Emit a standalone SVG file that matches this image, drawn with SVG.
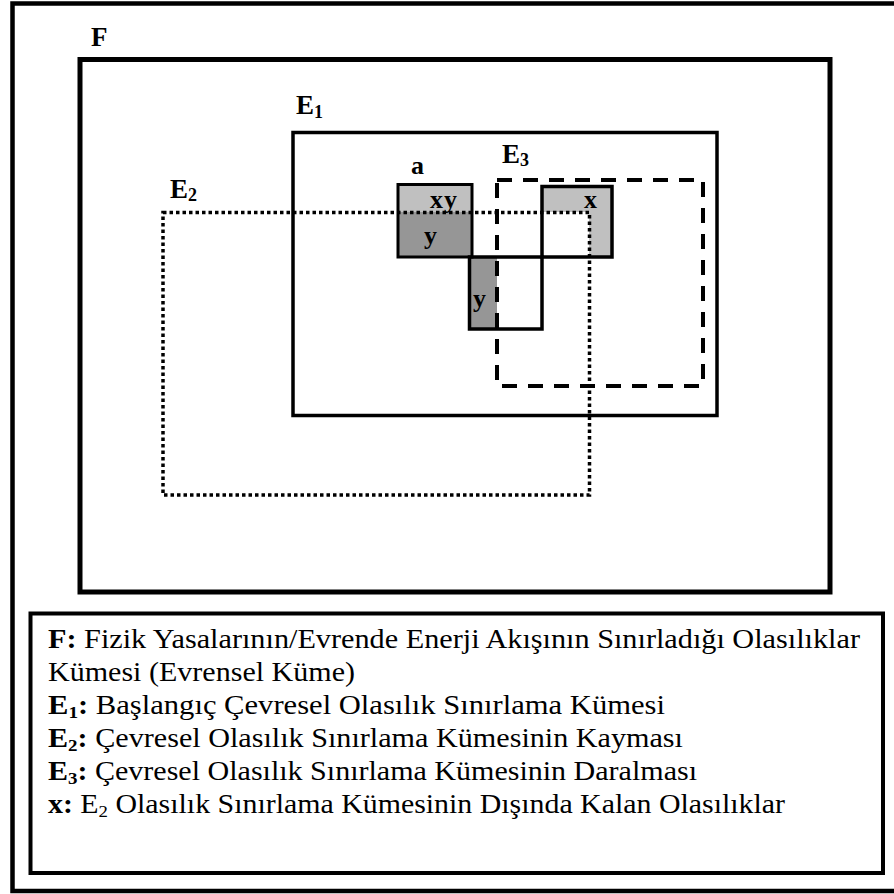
<svg xmlns="http://www.w3.org/2000/svg" width="894" height="894" viewBox="0 0 894 894">
<style>
.frame{fill:none;stroke:#000}
.lbl{font-family:'Liberation Serif','Times New Roman',Times,'DejaVu Serif',serif;font-weight:bold;fill:#000}
.leg{font-family:'Liberation Serif','Times New Roman',Times,'DejaVu Serif',serif;font-size:27px;fill:#000}
.b{font-weight:bold}
.lg{fill:#c0c0c0}
.dg{fill:#969696}
</style>
<rect width="894" height="894" fill="#fff"/>
<g id="outer"><path class="frame" d="M 894 3.5 H 12.5 V 891 H 894" stroke-width="4.5"/></g>
<g id="F">
<rect class="frame" x="80" y="59.5" width="750" height="532.5" stroke-width="5"/>
<text class="lbl" x="91" y="46" font-size="27">F</text>
</g>
<g id="E1">
<rect class="frame" x="293" y="132.5" width="424" height="283" stroke-width="3.5"/>
<text class="lbl" x="296" y="114" font-size="27">E<tspan font-size="18" dy="4">1</tspan></text>
</g>
<g id="regions">
<rect class="lg" x="398" y="184" width="74" height="28"/>
<rect class="dg" x="398" y="212" width="74" height="45"/>
<rect class="dg" x="469" y="257" width="28" height="72"/>
<rect class="lg" x="542" y="186" width="70" height="26"/>
<rect class="lg" x="589" y="212" width="23" height="45"/>
<rect class="frame" x="398" y="184.5" width="74" height="72.5" stroke-width="3"/>
<rect class="frame" x="469.5" y="257" width="72.5" height="72" stroke-width="3.5"/>
<rect class="frame" x="542" y="186.5" width="70" height="70.5" stroke-width="3.5"/>
<text class="lbl" x="411" y="174" font-size="26">a</text>
<text class="lbl" x="430" y="208" font-size="26">x<tspan dx="1">y</tspan></text>
<text class="lbl" x="424" y="244" font-size="26">y</text>
<text class="lbl" x="584" y="208" font-size="26">x</text>
<text class="lbl" x="473" y="307" font-size="26">y</text>
</g>
<g id="E2">
<rect class="frame" x="163" y="212.5" width="426.5" height="282.5" stroke-width="3.5" stroke-dasharray="3.5 3"/>
<text class="lbl" x="170" y="198" font-size="27">E<tspan font-size="18" dy="3">2</tspan></text>
</g>
<g id="E3">
<rect class="frame" x="497" y="180" width="206" height="206" stroke-width="4" stroke-dasharray="15 11"/>
<text class="lbl" x="502" y="163" font-size="27">E<tspan font-size="18" dy="3">3</tspan></text>
</g>
<g id="legend">
<rect class="frame" x="30.5" y="613.5" width="852.5" height="259.5" stroke-width="4"/>
<text class="leg" x="48" y="648" textLength="812" lengthAdjust="spacingAndGlyphs"><tspan class="b">F:</tspan> Fizik Yasalarının/Evrende Enerji Akışının Sınırladığı Olasılıklar</text>
<text class="leg" x="48" y="681" textLength="307" lengthAdjust="spacingAndGlyphs">Kümesi (Evrensel Küme)</text>
<text class="leg" x="48" y="714" textLength="617" lengthAdjust="spacingAndGlyphs"><tspan class="b">E<tspan font-size="17" dy="4">1</tspan><tspan dy="-4">:</tspan></tspan> Başlangıç Çevresel Olasılık Sınırlama Kümesi</text>
<text class="leg" x="48" y="747" textLength="635" lengthAdjust="spacingAndGlyphs"><tspan class="b">E<tspan font-size="17" dy="4">2</tspan><tspan dy="-4">:</tspan></tspan> Çevresel Olasılık Sınırlama Kümesinin Kayması</text>
<text class="leg" x="48" y="780" textLength="649" lengthAdjust="spacingAndGlyphs"><tspan class="b">E<tspan font-size="17" dy="4">3</tspan><tspan dy="-4">:</tspan></tspan> Çevresel Olasılık Sınırlama Kümesinin Daralması</text>
<text class="leg" x="48" y="813" textLength="737" lengthAdjust="spacingAndGlyphs"><tspan class="b">x:</tspan> E<tspan font-size="17" dy="4">2</tspan><tspan dy="-4"> Olasılık Sınırlama Kümesinin Dışında Kalan Olasılıklar</tspan></text>
</g>
</svg>
